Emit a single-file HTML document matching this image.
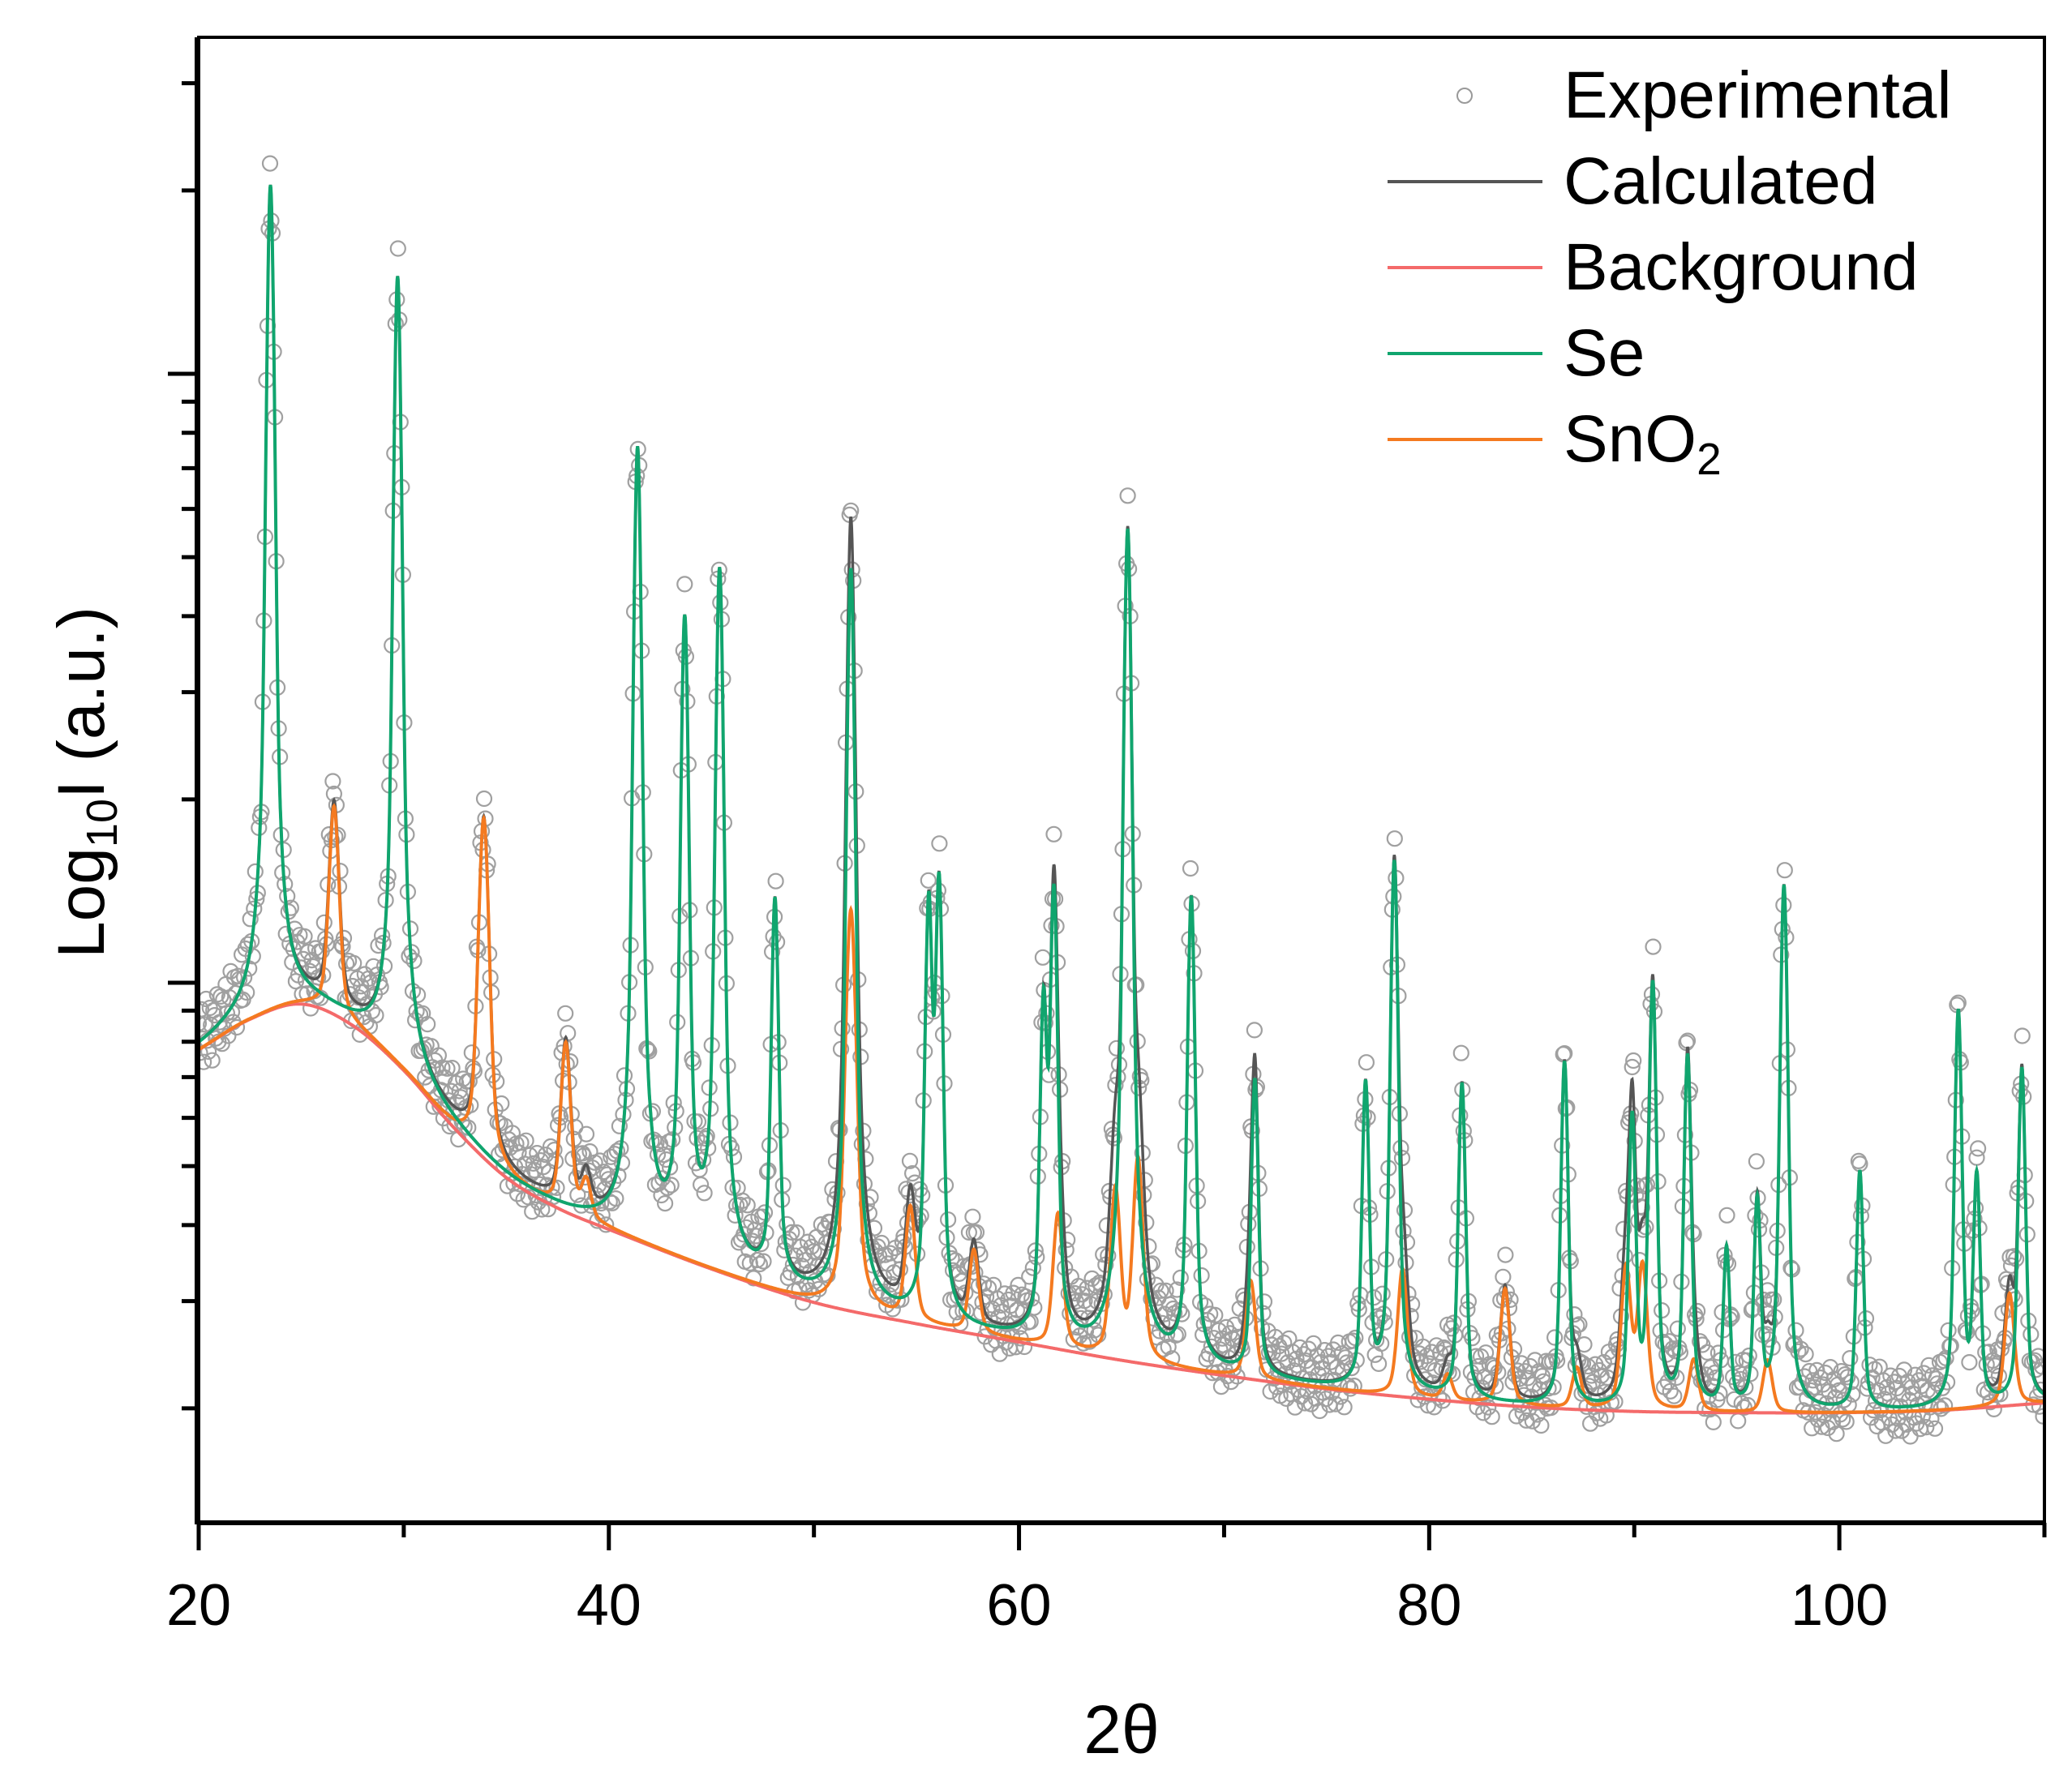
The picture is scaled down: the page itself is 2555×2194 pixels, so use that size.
<!DOCTYPE html>
<html><head><meta charset="utf-8"><style>html,body{margin:0;padding:0;background:#fff}svg{display:block}text{font-family:"Liberation Sans",Arial,sans-serif;fill:#000}</style></head>
<body>
<svg id="chart" width="2555" height="2194" viewBox="0 0 2555 2194" xmlns="http://www.w3.org/2000/svg">
<defs><clipPath id="clip"><rect x="245" y="46" width="2276" height="1832"/></clipPath></defs>
<g id="plot" clip-path="url(#clip)"></g>
<g id="axes"></g>
<g id="legend"></g>
</svg>
<script>
// background (2θ, log10 I)
const bgX = [20,22.5,25,27.5,30,32.5,35,37.5,40,45,50,55,60,65,70,75,80,85,90,95,100,105,110];
const bgY = [2.89,2.94,2.965,2.93,2.856,2.76,2.68,2.63,2.595,2.53,2.475,2.44,2.41,2.38,2.355,2.333,2.316,2.303,2.296,2.294,2.294,2.298,2.31];
// Se peaks: centers and top log10 I
const sePos = [23.5,29.7,41.4,43.7,45.4,48.1,51.8,55.6,56.1,61.2,61.7,65.3,68.4,71.5,76.9,78.3,81.6,86.6,89.9,90.9,92.6,94.5,96.0,97.3,101.0,105.8,106.7,108.9];
const seTop = [4.31,4.16,3.88,3.60,3.68,3.135,3.68,3.13,3.165,2.965,3.15,3.745,3.14,2.84,2.834,3.2,2.834,2.87,2.78,3.0,2.88,2.56,2.64,3.16,2.69,2.954,2.68,2.86];
// SnO2 peaks
const snPos = [26.6,33.9,37.9,38.9,42.6,51.8,54.7,57.8,61.9,64.7,65.8,71.3,78.7,80.9,83.7,87.2,89.6,90.4,92.9,96.5,108.3];
const snTop = [3.29,3.27,2.90,2.67,2.555,3.12,2.63,2.56,2.62,2.66,2.71,2.51,2.53,2.355,2.497,2.366,2.53,2.534,2.38,2.38,2.49];
// experimental residuals (log units, repeating)
const expResid = [0.03,-0.02,0.05,0.0,-0.04,0.02,0.06,-0.01,-0.03,0.04,0.01,-0.05,0.03,0.02,-0.02,0.05,-0.03,0.0,0.04,-0.04];
const xTicks = [20,40,60,80,100];
const xMinor = [30,50,70,90,110];
const yMajor = [1000,10000];
const yMinor = [200,300,400,500,600,700,800,900,2000,3000,4000,5000,6000,7000,8000,9000,20000,30000];

const NS="http://www.w3.org/2000/svg";
const XR=2521;
const X = v => 245 + (v-20)*(XR-245)/90;
const Y = l => 1212 - (l-3)*751;
function mk(tag, attrs, parent){const e=document.createElementNS(NS,tag);for(const k in attrs)e.setAttribute(k,attrs[k]);parent.appendChild(e);return e;}
function bgAt(x){const n=bgX.length;let i=0;while(i<n-2&&x>bgX[i+1])i++;
 const t=(x-bgX[i])/(bgX[i+1]-bgX[i]);
 const p0=bgY[Math.max(i-1,0)],p1=bgY[i],p2=bgY[i+1],p3=bgY[Math.min(i+2,n-1)];
 const h=bgX[i+1]-bgX[i];
 const m1=(p2-p0)/((bgX[Math.min(i+1,n-1)]-bgX[Math.max(i-1,0)])||1)*h;
 const m2=(p3-p1)/((bgX[Math.min(i+2,n-1)]-bgX[i])||1)*h;
 const t2=t*t,t3=t2*t;
 return (2*t3-3*t2+1)*p1+(t3-2*t2+t)*m1+(-2*t3+3*t2)*p2+(t3-t2)*m2;}
function peaks(x,pos,top,w){let s=0;for(let i=0;i<pos.length;i++){const A=Math.pow(10,top[i])-Math.pow(10,bgAt(pos[i]));const d=(x-pos[i])/w;s+=Math.max(A,0)*(0.45/(1+d*d)+0.55*Math.exp(-0.693*d*d));}return s;}
const xs=[];for(let x=20;x<=110.0001;x+=0.02)xs.push(x);
function curve(f){return xs.map((x,i)=>(i?'L':'M')+X(x).toFixed(1)+','+Y(f(x)).toFixed(1)).join('');}
const bgL=x=>Math.pow(10,bgAt(x));
const SEW=0.17,SNW=0.26;
const seF=x=>Math.log10(bgL(x)+peaks(x,sePos,seTop,SEW));
const snF=x=>Math.log10(bgL(x)+peaks(x,snPos,snTop,SNW));
const calcF=x=>Math.log10(bgL(x)+peaks(x,sePos,seTop,SEW)+peaks(x,snPos,snTop,SNW));
const plot=document.getElementById('plot');
const eg=mk('g',{},plot);


let k=0;
for(let x=20;x<=110;x+=0.06){const v=calcF(x)+expResid[k%expResid.length];k++;
 const c=mk('circle',{cx:X(x).toFixed(1),cy:Y(v).toFixed(1),r:9,fill:'none',stroke:'#a0a0a0',"stroke-width":2.2},eg);
 
 }
const pc=mk('path',{d:curve(calcF),fill:'none',stroke:'#555',"stroke-width":3.5},plot);


const pb=mk('path',{d:curve(x=>bgAt(x)),fill:'none',stroke:'#f46a6a',"stroke-width":4},plot);


const ps=mk('path',{d:curve(snF),fill:'none',stroke:'#f47a20',"stroke-width":4},plot);


const pe=mk('path',{d:curve(seF),fill:'none',stroke:'#10a56e',"stroke-width":4},plot);


const ax=document.getElementById('axes');
const fr=mk('rect',{x:245,y:46,width:XR-245,height:1832,fill:'none',stroke:'#000',"stroke-width":4},ax);


mk('line',{x1:243,x2:243,y1:46,y2:1880,stroke:'#000',"stroke-width":6},ax);
mk('line',{x1:243,x2:XR,y1:1878,y2:1878,stroke:'#000',"stroke-width":6},ax);
xTicks.forEach(v=>{const t=mk('line',{x1:X(v),x2:X(v),y1:1878,y2:1912,stroke:'#000',"stroke-width":5},ax);
 
 
 const l=mk('text',{x:X(v),y:2004,"font-size":72,"text-anchor":"middle"},ax);l.textContent=v;
 
 });
xMinor.forEach(v=>{const t=mk('line',{x1:X(v),x2:X(v),y1:1878,y2:1896,stroke:'#000',"stroke-width":5},ax);
 
 });
yMajor.forEach(v=>{const y=Y(Math.log10(v));const t=mk('line',{x1:207,x2:245,y1:y,y2:y,stroke:'#000',"stroke-width":5},ax);
 
 });
yMinor.forEach(v=>{const y=Y(Math.log10(v));const t=mk('line',{x1:224,x2:245,y1:y,y2:y,stroke:'#000',"stroke-width":5},ax);
 
 });
const xt=mk('text',{x:1383,y:2162,"font-size":84,"text-anchor":"middle"},ax);xt.textContent='2θ';


const yt=mk('text',{x:0,y:0,"font-size":82,"text-anchor":"middle",transform:"translate(128,965) rotate(-90)"},ax);
yt.innerHTML='Log<tspan font-size="54" dy="16">10</tspan><tspan dy="-16">I (a.u.)</tspan>';


const lg=document.getElementById('legend');
const items=[['Experimental',null],['Calculated','#555'],['Background','#f46a6a'],['Se','#10a56e'],['SnO2','#f47a20']];
items.forEach((it,i)=>{const cy=118+i*106;
 const g=mk('g',{},lg);
 
 
 if(it[1]) mk('line',{x1:1711,x2:1902,y1:cy,y2:cy,stroke:it[1],"stroke-width":4},g);
 else mk('circle',{cx:1806,cy:cy,r:9,fill:'none',stroke:'#999',"stroke-width":2},g);
 const t=mk('text',{x:1928,y:cy+27,"font-size":82},g);
 if(it[0]==='SnO2') t.innerHTML='SnO<tspan font-size="55" dy="16">2</tspan>'; else t.textContent=it[0];});
</script>
</body></html>
